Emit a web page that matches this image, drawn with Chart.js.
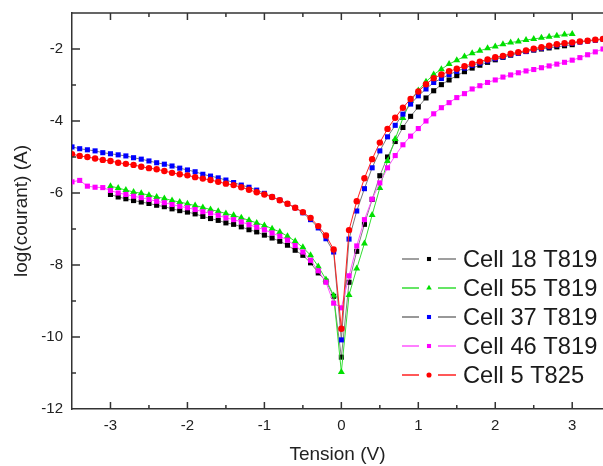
<!DOCTYPE html>
<html>
<head>
<meta charset="utf-8">
<script src="https://cdn.jsdelivr.net/npm/chart.js@4.4.1/dist/chart.umd.min.js"></script>
<style>
  html, body { margin: 0; padding: 0; background: #fff; overflow: hidden; }
  #wrap { width: 603px; height: 466px; position: relative; }
</style>
</head>
<body>
<div id="wrap"><canvas id="iv-chart"></canvas></div>
<script>
// tension steps (V)
const voltsFull = [
  -3.5, -3.4, -3.3, -3.2, -3.1, -3.0, -2.9, -2.8, -2.7, -2.6,
  -2.5, -2.4, -2.3, -2.2, -2.1, -2.0, -1.9, -1.8, -1.7, -1.6,
  -1.5, -1.4, -1.3, -1.2, -1.1, -1.0, -0.9, -0.8, -0.7, -0.6,
  -0.5, -0.4, -0.3, -0.2, -0.1, 0.0, 0.1, 0.2, 0.3, 0.4,
  0.5, 0.6, 0.7, 0.8, 0.9, 1.0, 1.1, 1.2, 1.3, 1.4,
  1.5, 1.6, 1.7, 1.8, 1.9, 2.0, 2.1, 2.2, 2.3, 2.4,
  2.5, 2.6, 2.7, 2.8, 2.9, 3.0, 3.1, 3.2, 3.3, 3.4,
];
const voltsShort = [
  -3.0, -2.9, -2.8, -2.7, -2.6, -2.5, -2.4, -2.3, -2.2, -2.1,
  -2.0, -1.9, -1.8, -1.7, -1.6, -1.5, -1.4, -1.3, -1.2, -1.1,
  -1.0, -0.9, -0.8, -0.7, -0.6, -0.5, -0.4, -0.3, -0.2, -0.1,
  0.0, 0.1, 0.2, 0.3, 0.4, 0.5, 0.6, 0.7, 0.8, 0.9,
  1.0, 1.1, 1.2, 1.3, 1.4, 1.5, 1.6, 1.7, 1.8, 1.9,
  2.0, 2.1, 2.2, 2.3, 2.4, 2.5, 2.6, 2.7, 2.8, 2.9, 3.0,
];

// log(courant)
const cell18 = [
  -6.04, -6.11, -6.16, -6.21, -6.25, -6.29, -6.34, -6.38, -6.44, -6.49,
  -6.53, -6.58, -6.65, -6.71, -6.76, -6.83, -6.87, -6.94, -7.02, -7.08,
  -7.17, -7.25, -7.34, -7.45, -7.59, -7.73, -7.94, -8.22, -8.45, -8.87,
  -10.56, -8.48, -7.62, -6.87, -6.18, -5.52, -5.00, -4.57, -4.18, -3.87,
  -3.61, -3.36, -3.16, -2.99, -2.86, -2.74, -2.63, -2.53, -2.45, -2.37,
  -2.30, -2.23, -2.17, -2.11, -2.07, -2.03, -2.00, -1.97, -1.94, -1.91, -1.88,
];
const cell55 = [
  -5.81, -5.86, -5.92, -5.97, -6.01, -6.06, -6.11, -6.15, -6.21, -6.25,
  -6.30, -6.35, -6.40, -6.46, -6.51, -6.57, -6.62, -6.69, -6.76, -6.83,
  -6.90, -6.99, -7.08, -7.20, -7.34, -7.51, -7.73, -8.04, -8.40, -8.85,
  -10.97, -8.83, -8.10, -7.40, -6.61, -5.86, -5.11, -4.50, -3.92, -3.44,
  -3.15, -2.91, -2.71, -2.56, -2.42, -2.31, -2.21, -2.12, -2.05, -1.98,
  -1.93, -1.87, -1.82, -1.79, -1.75, -1.72, -1.69, -1.66, -1.63, -1.60, -1.58,
];
const cell37 = [
  -4.72, -4.77, -4.80, -4.83, -4.88, -4.91, -4.94, -4.97, -5.02, -5.06,
  -5.11, -5.16, -5.20, -5.25, -5.31, -5.36, -5.41, -5.48, -5.53, -5.58,
  -5.64, -5.71, -5.78, -5.84, -5.92, -6.01, -6.11, -6.20, -6.30, -6.41,
  -6.55, -6.74, -6.97, -7.27, -7.64, -10.08, -7.28, -6.50, -5.88, -5.30,
  -4.83, -4.44, -4.12, -3.81, -3.53, -3.30, -3.11, -2.93, -2.82, -2.71,
  -2.62, -2.53, -2.45, -2.39, -2.33, -2.27, -2.22, -2.16, -2.12, -2.07,
  -2.02, -1.98, -1.94, -1.89, -1.86, -1.84, -1.81, -1.78, -1.76, -1.73,
];
const cell46 = [
  -5.69, -5.65, -5.81, -5.84, -5.85, -5.93, -6.00, -6.04, -6.09, -6.13,
  -6.18, -6.23, -6.27, -6.32, -6.37, -6.41, -6.46, -6.52, -6.56, -6.62,
  -6.69, -6.74, -6.80, -6.88, -6.95, -7.02, -7.11, -7.20, -7.31, -7.46,
  -7.64, -7.87, -8.16, -8.48, -9.06, -9.19, -8.30, -7.47, -6.74, -6.17,
  -5.72, -5.30, -4.96, -4.66, -4.42, -4.21, -4.00, -3.80, -3.63, -3.49,
  -3.35, -3.24, -3.11, -3.02, -2.93, -2.86, -2.78, -2.72, -2.66, -2.61,
  -2.57, -2.52, -2.47, -2.42, -2.37, -2.31, -2.24, -2.16, -2.08, -2.00,
];
const cell5 = [
  -4.92, -4.97, -5.00, -5.04, -5.08, -5.11, -5.16, -5.19, -5.22, -5.27,
  -5.31, -5.34, -5.39, -5.44, -5.48, -5.51, -5.56, -5.60, -5.64, -5.69,
  -5.74, -5.78, -5.84, -5.91, -5.98, -6.04, -6.11, -6.20, -6.30, -6.41,
  -6.53, -6.69, -6.92, -7.18, -7.57, -9.77, -7.03, -6.23, -5.59, -5.06,
  -4.60, -4.22, -3.91, -3.63, -3.39, -3.18, -2.98, -2.81, -2.71, -2.62,
  -2.55, -2.48, -2.41, -2.35, -2.29, -2.23, -2.19, -2.13, -2.09, -2.04,
  -1.99, -1.95, -1.91, -1.87, -1.84, -1.82, -1.79, -1.77, -1.74, -1.72,
];

const seriesNames = ["Cell 18 T819", "Cell 55 T819", "Cell 37 T819", "Cell 46 T819", "Cell 5 T825"];

const FONT = "'Liberation Sans', Arial, sans-serif";

function toPoints(xs, ys) {
  return xs.map((x, i) => ({ x: x, y: ys[i] }));
}

function makeSet(label, xs, ys, line, fill, style, radius, order) {
  return {
    label: label,
    data: toPoints(xs, ys),
    borderColor: line,
    borderWidth: 1,
    backgroundColor: fill,
    pointBackgroundColor: fill,
    pointBorderColor: fill,
    pointBorderWidth: 0,
    pointStyle: style,
    pointRadius: radius,
    tension: 0,
    order: order,
  };
}

// ticks inside the frame, plus the top border
const innerTicks = {
  id: "innerTicks",
  afterDraw(chart) {
    const { ctx, chartArea: a, scales } = chart;
    const x = scales.x;
    const y = scales.y;
    ctx.save();
    ctx.strokeStyle = "#333";
    ctx.lineWidth = 1.5;
    ctx.beginPath();
    ctx.moveTo(a.left, a.top);
    ctx.lineTo(a.right, a.top);
    x.ticks.forEach((t) => {
      const px = x.getPixelForValue(t.value);
      if (px <= a.left + 1 || px >= a.right - 1) return;
      const len = Number.isInteger(t.value) ? 7 : 4;
      ctx.moveTo(px, a.bottom);
      ctx.lineTo(px, a.bottom - len);
      ctx.moveTo(px, a.top);
      ctx.lineTo(px, a.top + len);
    });
    y.ticks.forEach((t) => {
      const py = y.getPixelForValue(t.value);
      if (py >= a.bottom - 1 || py <= a.top + 1) return;
      const len = t.value % 2 === 0 ? 8 : 4;
      ctx.moveTo(a.left, py);
      ctx.lineTo(a.left + len, py);
    });
    ctx.stroke();
    ctx.restore();
  },
};

// legend in the lower right of the plot
const boxLegend = {
  id: "boxLegend",
  afterDraw(chart) {
    const ctx = chart.ctx;
    ctx.save();
    chart.data.datasets.forEach((ds, i) => {
      const yy = 259 + i * 29;
      ctx.strokeStyle = ds.borderColor;
      ctx.lineWidth = 1.5;
      ctx.beginPath();
      ctx.moveTo(402, yy);
      ctx.lineTo(419, yy);
      ctx.moveTo(438, yy);
      ctx.lineTo(456, yy);
      ctx.stroke();
      ctx.fillStyle = ds.pointBackgroundColor;
      ctx.strokeStyle = ds.pointBackgroundColor;
      Chart.helpers.drawPoint(ctx, {
        pointStyle: ds.pointStyle,
        radius: ds.pointRadius * 0.8,
        rotation: 0,
        borderWidth: 0,
      }, 429, yy);
      ctx.fillStyle = "#1a1a1a";
      ctx.font = "23.7px " + FONT;
      ctx.textBaseline = "middle";
      ctx.textAlign = "left";
      ctx.fillText(ds.label, 463, yy + 1);
    });
    ctx.restore();
  },
};

document.addEventListener("DOMContentLoaded", () => {
  new Chart("iv-chart", {
    type: "line",
    data: {
      datasets: [
        makeSet(seriesNames[0], voltsShort, cell18, "#808080", "#000000", "rect", 3.6, 5),
        makeSet(seriesNames[1], voltsShort, cell55, "#33dd33", "#00e000", "triangle", 4, 4),
        makeSet(seriesNames[2], voltsFull, cell37, "#777777", "#0000ff", "rect", 3.6, 3),
        makeSet(seriesNames[3], voltsFull, cell46, "#ff55ff", "#ff00ff", "rect", 3.6, 2),
        makeSet(seriesNames[4], voltsFull, cell5, "#ff2222", "#ff0000", "circle", 3.2, 1),
      ],
    },
    options: {
      responsive: true,
      maintainAspectRatio: false,
      animation: false,
      layout: { autoPadding: false, padding: { top: 13, right: 0, bottom: 0, left: 0 } },
      plugins: {
        legend: { display: false },
        tooltip: { enabled: false },
      },
      scales: {
        x: {
          type: "linear",
          min: -3.5,
          max: 3.4,
          afterFit: (s) => {
            s.height = 57;
            s.paddingLeft = 0;
            s.paddingRight = 0;
          },
          grid: { display: false, drawTicks: false },
          border: { display: true, color: "#333", width: 1.5 },
          ticks: {
            stepSize: 0.5,
            includeBounds: false,
            autoSkip: false,
            maxRotation: 0,
            padding: 8,
            color: "#222",
            font: { family: FONT, size: 15 },
            callback: (v) => (Number.isInteger(v) ? String(v) : ""),
          },
          title: {
            display: true,
            text: "Tension (V)",
            color: "#222",
            font: { family: FONT, size: 19 },
            padding: { top: 0, bottom: 0 },
          },
        },
        y: {
          min: -12,
          max: -1,
          afterFit: (s) => {
            s.width = 72;
            s.paddingTop = 0;
            s.paddingBottom = 0;
          },
          grid: { display: false, drawTicks: false },
          border: { display: true, color: "#333", width: 1.5 },
          ticks: {
            stepSize: 1,
            includeBounds: false,
            autoSkip: false,
            padding: 9,
            color: "#222",
            font: { family: FONT, size: 15 },
            callback: (v) => (v % 2 === 0 ? String(v) : ""),
          },
          title: {
            display: true,
            text: "log(courant) (A)",
            color: "#222",
            font: { family: FONT, size: 19 },
            padding: { top: 10, bottom: 0 },
          },
        },
      },
    },
    plugins: [innerTicks, boxLegend],
  });
});
</script>
</body>
</html>
